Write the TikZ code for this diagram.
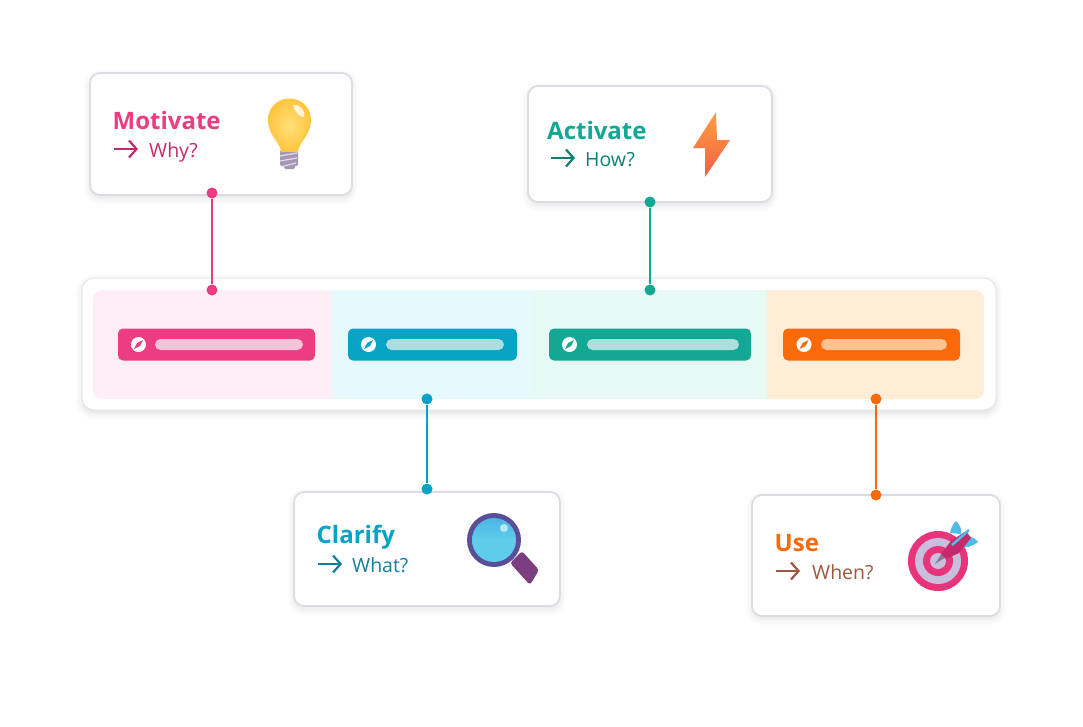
\documentclass[tikz,border=0pt]{standalone}
\usepackage{fontspec}
\setmainfont{Open Sans}
\usetikzlibrary{arrows.meta,shadows.blur}
\definecolor{pinkc}{HTML}{EC3D83}
\definecolor{pinkd}{HTML}{C72A6C}
\definecolor{pinkl}{HTML}{FEEFF6}
\definecolor{pinkb}{HTML}{F5C3D8}
\definecolor{bluec}{HTML}{06A3C4}
\definecolor{blued}{HTML}{117F9B}
\definecolor{bluel}{HTML}{E6F9FD}
\definecolor{blueb}{HTML}{ABDFDF}
\definecolor{greenc}{HTML}{12A894}
\definecolor{greend}{HTML}{0F7F74}
\definecolor{greenl}{HTML}{E6F9F5}
\definecolor{greenb}{HTML}{ADDFDB}
\definecolor{orangec}{HTML}{FA6A0A}
\definecolor{oranged}{HTML}{9C5840}
\definecolor{orangel}{HTML}{FFEDD8}
\definecolor{orangeb}{HTML}{FFC190}
\definecolor{rimc}{HTML}{DEDCE3}
\definecolor{lilac}{HTML}{C9BEDB}
\definecolor{screwc}{HTML}{A497B4}
\definecolor{bulbin}{HTML}{FFE07A}
\definecolor{bulbout}{HTML}{FFC53F}
\definecolor{bolttop}{HTML}{FFA040}
\definecolor{boltbot}{HTML}{F06048}
\definecolor{lensc}{HTML}{5FCDEA}
\definecolor{lenstop}{HTML}{4DB5E6}
\definecolor{ringc}{HTML}{5A4E96}
\definecolor{handlec}{HTML}{7B3F7F}
\definecolor{finc}{HTML}{4DBCE6}
\definecolor{goalc}{HTML}{E8347B}
\begin{document}
\begin{tikzpicture}[
    x=1pt,y=-1pt,
    card/.style={draw=rimc,line width=1.8pt,fill=white,rounded corners=10pt,inner sep=0pt,
        blur shadow={shadow xshift=0pt,shadow yshift=-3pt,shadow blur radius=7pt,shadow opacity=12}},
    panel/.style={draw=rimc!70,line width=1pt,fill=white,rounded corners=12pt,inner sep=0pt,
        blur shadow={shadow xshift=0pt,shadow yshift=-3pt,shadow blur radius=7pt,shadow opacity=14}},
    tab/.style={rounded corners=5pt,inner sep=0pt,minimum height=32pt},
    bar/.style={rounded corners=5.5pt,inner sep=0pt,minimum height=11pt},
    badge/.style={circle,fill=white,inner sep=0pt,minimum size=15pt},
    dot/.style={circle,inner sep=0pt,minimum size=11pt},
    link/.style={line width=2pt},
    title/.style={anchor=base west,inner sep=0pt,font=\fontsize{24}{28}\selectfont\bfseries},
    ask/.style={anchor=base west,inner sep=0pt,font=\fontsize{19.5}{23}\selectfont},
    pointer/.style={-{Straight Barb[length=7.5pt,width=17pt,line width=2.2pt]},line width=2.2pt}
]
\useasboundingbox (0,0) rectangle (1083,726);
% Middle strip
\node[panel,minimum width=914pt,minimum height=132pt] (strip) at (539,344) {};
\fill[pinkl] (332,290) {[rounded corners=9pt] -- (93,290) -- (93,399)} -- (332,399) -- cycle;
\fill[bluel] (332,290) rectangle (533,399);
\fill[greenl] (533,290) rectangle (767,399);
\fill[orangel] (767,290) {[rounded corners=9pt] -- (984,290) -- (984,399)} -- (767,399) -- cycle;

% Tabs
\node[tab,fill=pinkc,minimum width=197pt] (tabm) at (216.5,344.5) {};
\node[bar,fill=pinkb,minimum width=148pt] (barm) at (229,344.5) {};
\node[badge] (icom) at (138.5,344.5) {};
\fill[pinkc,shift={(138.5,344.5)}] (-4.5,4.5) -- (-1.5,-1.5) -- (4.5,-4.5) -- (1.5,1.5) -- cycle;
\node[tab,fill=bluec,minimum width=169pt] (tabc) at (432.5,344.5) {};
\node[bar,fill=blueb,minimum width=118pt] (barc) at (445,344.5) {};
\node[badge] (icoc) at (368.5,344.5) {};
\fill[bluec,shift={(368.5,344.5)}] (-4.5,4.5) -- (-1.5,-1.5) -- (4.5,-4.5) -- (1.5,1.5) -- cycle;
\node[tab,fill=greenc,minimum width=202pt] (taba) at (650,344.5) {};
\node[bar,fill=greenb,minimum width=152pt] (bara) at (663,344.5) {};
\node[badge] (icoa) at (569.5,344.5) {};
\fill[greenc,shift={(569.5,344.5)}] (-4.5,4.5) -- (-1.5,-1.5) -- (4.5,-4.5) -- (1.5,1.5) -- cycle;
\node[tab,fill=orangec,minimum width=177pt] (tabu) at (871.5,344.5) {};
\node[bar,fill=orangeb,minimum width=126pt] (baru) at (884,344.5) {};
\node[badge] (icou) at (804,344.5) {};
\fill[orangec,shift={(804,344.5)}] (-4.5,4.5) -- (-1.5,-1.5) -- (4.5,-4.5) -- (1.5,1.5) -- cycle;

% Cards
\node[card,minimum width=262pt,minimum height=122pt] (motivate) at (221,134) {};
\node[card,minimum width=244pt,minimum height=116pt] (activate) at (650,144) {};
\node[card,minimum width=266pt,minimum height=114pt] (clarify) at (427,549) {};
\node[card,minimum width=248pt,minimum height=121pt] (use) at (876,555.5) {};

% Card texts
\node[title,text=pinkc] (tm) at (112.5,129) {Motivate};
\node[ask,text=pinkd] (qm) at (149,157) {Why?};
\coordinate (am) at (114,149);
\coordinate (bm) at (138,149);
\draw[pointer,pinkd] (am) -- (bm);
\node[title,text=greenc] (ta) at (547,139) {Activate};
\node[ask,text=greend] (qa) at (585,166) {How?};
\coordinate (aa) at (551,158);
\coordinate (ba) at (575,158);
\draw[pointer,greend] (aa) -- (ba);
\node[title,text=bluec] (tc) at (316.5,543) {Clarify};
\node[ask,text=blued] (qc) at (352,572) {What?};
\coordinate (ac) at (318,564);
\coordinate (bc) at (342,564);
\draw[pointer,blued] (ac) -- (bc);
\node[title,text=orangec] (tu) at (774.5,551) {Use};
\node[ask,text=oranged] (qu) at (812,579) {When?};
\coordinate (au) at (776,571);
\coordinate (bu) at (800,571);
\draw[pointer,oranged] (au) -- (bu);

% Connectors
\node[dot,fill=pinkc] (dm1) at (212,193) {};
\node[dot,fill=pinkc] (dm2) at (212,290) {};
\draw[link,pinkc] (dm1) -- (dm2);
\node[dot,fill=greenc] (da1) at (650,202) {};
\node[dot,fill=greenc] (da2) at (650,290) {};
\draw[link,greenc] (da1) -- (da2);
\node[dot,fill=bluec] (dc1) at (427,399) {};
\node[dot,fill=bluec] (dc2) at (427,489) {};
\draw[link,bluec] (dc1) -- (dc2);
\node[dot,fill=orangec] (du1) at (876,399) {};
\node[dot,fill=orangec] (du2) at (876,495) {};
\draw[link,orangec] (du1) -- (du2);

% Bulb
\fill[screwc,rounded corners=2pt] (280,150) rectangle (298,166);
\fill[screwc,rounded corners=2pt] (284,162) rectangle (295,169);
\draw[lilac!60!white,line width=1.3pt] (280,156) -- (297,153) (280,161) -- (297,158) (284,166) -- (296,163);
\shade[inner color=bulbin,outer color=bulbout]
    (281,152) .. controls (281,143) and (268,136) .. (268,120)
    .. controls (268,107) and (278,98.5) .. (289.5,98.5)
    .. controls (301,98.5) and (311,107) .. (311,120)
    .. controls (311,136) and (298,143) .. (298,152) -- cycle;
\fill[white,opacity=0.8] (293,105) .. controls (301,104) and (306,112) .. (304,117)
    .. controls (299,117) and (294,111) .. (293,105) -- cycle;

% Bolt
\shade[top color=bolttop,bottom color=boltbot]
    (716,112) -- (693,148) -- (705,148) -- (705,177) -- (730,140) -- (717,140) -- cycle;

% Magnifier
\fill[handlec,rounded corners=3pt] (510,563) -- (522,551) -- (539,570) -- (530,585) -- cycle;
\fill[ringc] (494,540) circle (27pt);
\shade[top color=lenstop,bottom color=lensc,middle color=lensc] (494,540) circle (22pt);
\fill[white,opacity=0.6] (504,528) circle (4pt);

% Target
\fill[goalc] (938,561) circle (30pt);
\fill[lilac] (938,561) circle (23pt);
\fill[goalc] (938,561) circle (15pt);
\fill[lilac] (938,561) circle (8pt);
\fill[finc] (950,533) .. controls (951,527) and (954,523) .. (956,521)
    .. controls (960,525) and (962,529) .. (961,534) -- cycle;
\fill[finc] (958,547) .. controls (966,549) and (973,546) .. (978,542)
    .. controls (975,538) and (971,536) .. (966,537) -- cycle;
\fill[black!35!lilac] (935,564) -- (942,553) -- (946,557) -- cycle;
\fill[pinkd] (941,554) -- (951,541) -- (966,531) -- (971,538) -- (959,553) -- (946,559) -- cycle;
\draw[finc,line width=2.5pt] (952,545) -- (969,530);
\end{tikzpicture}
\end{document}
